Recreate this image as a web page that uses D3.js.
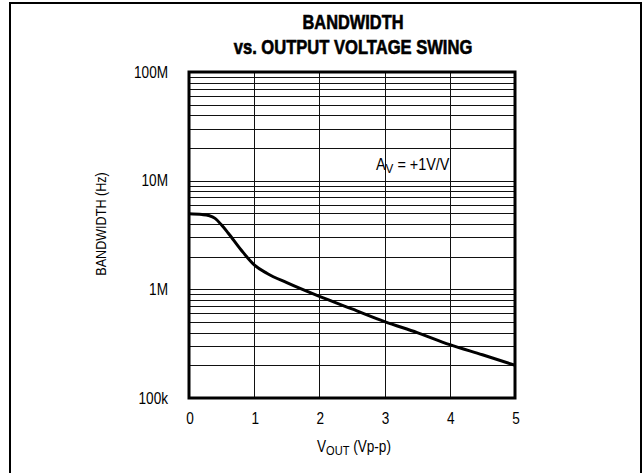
<!DOCTYPE html>
<html>
<head>
<meta charset="utf-8">
<script src="https://cdn.jsdelivr.net/npm/d3@7"></script>
<style>
    body { margin: 0; background: #fff; }
    svg text { font-family: "Liberation Sans", Arial, sans-serif; fill: #000; }
</style>
</head>
<body>
<svg id="chart" width="642" height="473"></svg>
<script>
'use strict';

// values
var vout = [0, 0.2, 0.3, 0.4, 0.5, 0.6, 0.8, 1.0, 1.2, 1.5, 2, 2.5, 3, 3.5, 4, 4.5, 5];
var bandwidth = [4.95e6, 4.88e6, 4.78e6, 4.5e6, 3.9e6, 3.3e6, 2.3e6, 1.68e6, 1.4e6, 1.15e6, 0.86e6, 0.66e6, 0.505e6, 0.4e6, 0.31e6, 0.25e6, 0.2e6];
var xTicks = [0, 1, 2, 3, 4, 5];
var yTicks = [1e5, 1e6, 1e7, 1e8];
var yTickLabels = ["100k", "1M", "10M", "100M"];

var margin = {top: 72, left: 189, width: 326, height: 326};

var chart = d3.select("#chart");

// narrow text: Liberation Sans squeezed horizontally, like Helvetica Narrow
function narrowText(parent, x, y, opts) {
    var g = parent.append("g")
        .attr("transform", "translate(" + x + "," + y + ")" +
              (opts.rotate ? " rotate(" + opts.rotate + ")" : "") +
              " scale(" + (opts.squeeze || 0.85) + ",1)");
    return g.append("text")
        .attr("text-anchor", opts.anchor || "start")
        .style("font-size", (opts.size || 16) + "px")
        .style("font-weight", opts.weight || "normal");
}

// outer frame
chart.append("rect")
    .attr("x", 10).attr("y", 3)
    .attr("width", 631).attr("height", 480)
    .style("fill", "none").style("stroke", "#000").style("stroke-width", 2);

var xScale = d3.scaleLinear().domain([0, 5]).range([0, margin.width]),
    yScale = d3.scaleLog().domain([1e5, 1e8]).range([margin.height, 0]);

var board = chart.append("g")
    .attr("transform", "translate(" + margin.left + "," + margin.top + ")");

// horizontal grid: 1..9 of every decade
var minor = [];
[1e5, 1e6, 1e7].forEach(function(d) {
    for (var k = 1; k < 10; k++) minor.push(d * k);
});
board.selectAll("line.hgrid").data(minor).enter().append("line")
    .attr("class", "hgrid")
    .attr("x1", 0).attr("x2", margin.width)
    .attr("y1", function(d) { return Math.round(yScale(d)) + 0.5; })
    .attr("y2", function(d) { return Math.round(yScale(d)) + 0.5; })
    .style("stroke", "#111").style("stroke-width", 1);

board.selectAll("line.vgrid").data(xTicks).enter().append("line")
    .attr("class", "vgrid")
    .attr("x1", function(d) { return Math.round(xScale(d)) + 0.5; })
    .attr("x2", function(d) { return Math.round(xScale(d)) + 0.5; })
    .attr("y1", 0).attr("y2", margin.height)
    .style("stroke", "#111").style("stroke-width", 1);

// plot frame
board.append("rect")
    .attr("width", margin.width).attr("height", margin.height)
    .style("fill", "none").style("stroke", "#000").style("stroke-width", 3);

// curve
var line = d3.line()
    .x(function(d, i) { return xScale(vout[i]); })
    .y(function(d) { return yScale(d); })
    .curve(d3.curveMonotoneX);

board.append("path")
    .datum(bandwidth)
    .attr("d", line)
    .style("fill", "none").style("stroke", "#000")
    .style("stroke-width", 3).style("stroke-linejoin", "round");

// tick labels
yTicks.forEach(function(d, i) {
    narrowText(board, -21, yScale(d), {anchor: "end", size: 16})
        .attr("dy", "0.36em")
        .text(yTickLabels[i]);
});
xTicks.forEach(function(d) {
    narrowText(board, xScale(d) + 1, margin.height + 26, {anchor: "middle", size: 16})
        .text(d);
});

// axis titles
var xt = narrowText(chart, 354, 452, {anchor: "middle", size: 16});
xt.append("tspan").text("V");
xt.append("tspan").attr("dy", 3).style("font-size", "13px").text("OUT");
xt.append("tspan").attr("dy", -3).text(" (Vp-p)");

narrowText(chart, 106, 224, {anchor: "middle", size: 15, rotate: -90, squeeze: 0.84})
    .text("BANDWIDTH (Hz)");

var av = narrowText(chart, 376, 170, {size: 16, squeeze: 0.9});
av.append("tspan").text("A");
av.append("tspan").attr("dy", 3).style("font-size", "13px").text("V");
av.append("tspan").attr("dy", -3).text(" = +1V/V");

// title
narrowText(chart, 353, 29, {anchor: "middle", size: 19.5, weight: "bold", squeeze: 0.84})
    .style("stroke", "#000").style("stroke-width", 0.6)
    .text("BANDWIDTH");
narrowText(chart, 353, 54, {anchor: "middle", size: 19.5, weight: "bold", squeeze: 0.85})
    .style("stroke", "#000").style("stroke-width", 0.6)
    .text("vs. OUTPUT VOLTAGE SWING");
</script>
</body>
</html>
